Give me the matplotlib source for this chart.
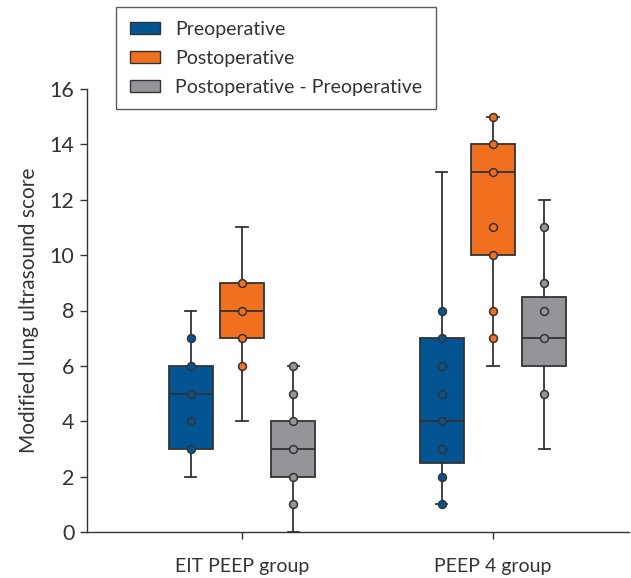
import matplotlib
matplotlib.use("Agg")
import matplotlib.pyplot as plt
from matplotlib.patches import Patch

plt.rcParams['font.family'] = ['Lato', 'DejaVu Sans']

groups = ["EIT PEEP group", "PEEP 4 group"]
series = ["Preoperative", "Postoperative", "Postoperative - Preoperative"]
colors = ["#035493", "#f07020", "#939598"]

# box stats per group per series: (whislo, q1, med, q3, whishi)
eit_pre_box = (2, 3, 5, 6, 8)
eit_post_box = (4, 7, 8, 9, 11)
eit_diff_box = (0, 2, 3, 4, 6)
peep_pre_box = (1, 2.5, 4, 7, 13)
peep_post_box = (6, 10, 13, 14, 15)
peep_diff_box = (3, 6, 7, 8.5, 12)

eit_pre_pts = [7, 6, 5, 4, 3]
eit_post_pts = [9, 8, 7, 6]
eit_diff_pts = [6, 5, 4, 3, 2, 1]
peep_pre_pts = [8, 7, 6, 5, 4, 3, 2, 1]
peep_post_pts = [15, 14, 13, 11, 10, 8, 7]
peep_diff_pts = [11, 9, 8, 7, 5]

boxes = [[eit_pre_box, eit_post_box, eit_diff_box],
         [peep_pre_box, peep_post_box, peep_diff_box]]
points = [[eit_pre_pts, eit_post_pts, eit_diff_pts],
          [peep_pre_pts, peep_post_pts, peep_diff_pts]]

fig = plt.figure(figsize=(6.31, 5.78), dpi=100)
ax = fig.add_axes([87/631, 1-532/578, (629-87)/631, (532-89)/578])

offset = 0.205
width = 0.175
edge = "#333333"
for gi, g in enumerate(groups):
    center = gi + 1
    for si in range(3):
        pos = center + (si - 1) * offset
        lo, q1, med, q3, hi = boxes[gi][si]
        stats = [dict(whislo=lo, q1=q1, med=med, q3=q3, whishi=hi, fliers=[])]
        ax.bxp(stats, positions=[pos], widths=width, patch_artist=True,
               showfliers=False, capwidths=0.045,
               boxprops=dict(facecolor=colors[si], edgecolor=edge, linewidth=1.3),
               medianprops=dict(color=edge, linewidth=1.3),
               whiskerprops=dict(color=edge, linewidth=1.3),
               capprops=dict(color=edge, linewidth=1.3), zorder=2)
        pts = points[gi][si]
        ax.scatter([pos] * len(pts), pts, s=32, facecolor=colors[si],
                   edgecolor=edge, linewidth=1.1, zorder=4, clip_on=False)

ax.set_xlim(1 - 155/251, 2 + 136/251)
ax.set_ylim(0, 16)
ax.set_yticks(range(0, 17, 2))
ax.set_xticks([1, 2])
ax.set_xticklabels(groups)
ax.spines['top'].set_visible(False)
ax.spines['right'].set_visible(False)
for s in ['left', 'bottom']:
    ax.spines[s].set_color(edge)
    ax.spines[s].set_linewidth(1.0)
ax.tick_params(axis='both', direction='out', length=5, width=1.0, color=edge,
               labelsize=15.5, colors="#333333")
ax.tick_params(axis='y', pad=4)
ax.tick_params(axis='x', pad=14, labelsize=14)
ax.set_ylabel("Modified lung ultrasound score", fontsize=15, color="#333333", labelpad=8)

handles = [Patch(facecolor=c, edgecolor=edge, linewidth=1.0) for c in colors]
leg = fig.legend(handles, series, loc='upper left',
                 bbox_to_anchor=(116/631, 1 - 7/578), borderaxespad=0,
                 frameon=True, fancybox=False,
                 edgecolor=edge, fontsize=14, handlelength=1.55, handleheight=0.6,
                 borderpad=0.7, labelspacing=0.62, handletextpad=0.8)
leg.get_frame().set_linewidth(1.0)
for t in leg.get_texts():
    t.set_color("#333333")

fig.savefig("out.png", dpi=100)
